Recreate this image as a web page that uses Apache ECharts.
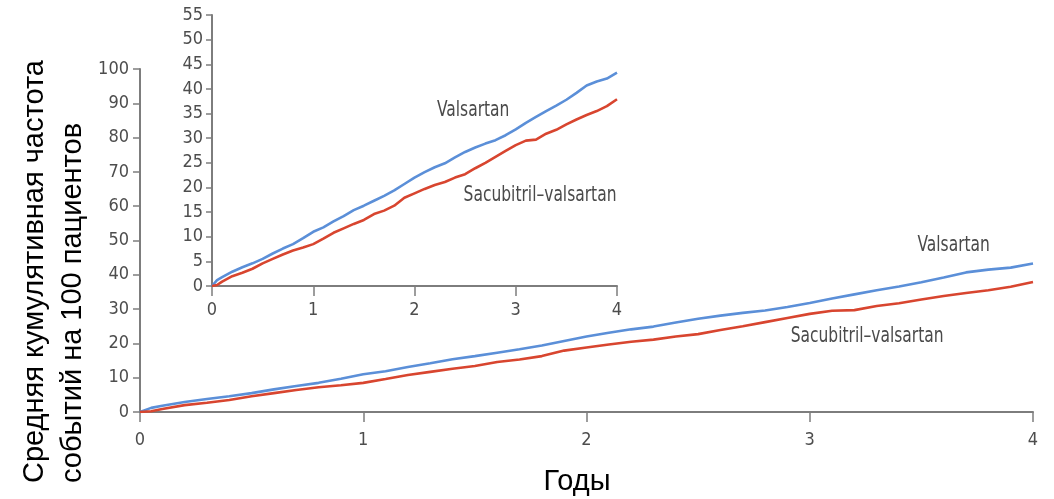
<!DOCTYPE html>
<html>
<head>
<meta charset="utf-8">
<script src="https://cdn.jsdelivr.net/npm/echarts@6/dist/echarts.min.js"></script>
<style>
html,body{margin:0;padding:0;background:#fff;}
#c{width:1054px;height:499px;}
</style>
</head>
<body>
<div id="c"></div>
<script>
// ---- data ----
const years = [0, 0.05, 0.1, 0.2, 0.3, 0.4, 0.5, 0.6, 0.7, 0.8, 0.9, 1.0, 1.1, 1.2, 1.3, 1.4, 1.5, 1.6, 1.7, 1.8, 1.9, 2.0,
  2.1, 2.2, 2.3, 2.4, 2.5, 2.6, 2.7, 2.8, 2.9, 3.0, 3.1, 3.2, 3.3, 3.4, 3.5, 3.6, 3.7, 3.8, 3.9, 4.0];
const valsartan = [0, 1.2, 1.8, 2.9, 3.8, 4.6, 5.5, 6.6, 7.6, 8.5, 9.7, 11.0, 11.9, 13.1, 14.2, 15.4, 16.3, 17.3, 18.3, 19.4, 20.7, 22.0,
  23.1, 24.1, 24.9, 26.1, 27.2, 28.1, 28.9, 29.6, 30.6, 31.8, 33.1, 34.3, 35.5, 36.6, 37.8, 39.2, 40.7, 41.5, 42.1, 43.3];
const sacubitrilValsartan = [0, 0.2, 0.9, 2.0, 2.7, 3.5, 4.6, 5.5, 6.4, 7.2, 7.8, 8.5, 9.6, 10.8, 11.7, 12.6, 13.4, 14.6, 15.3, 16.3, 17.9, 18.8,
  19.7, 20.5, 21.1, 22.0, 22.7, 23.9, 25.0, 26.2, 27.4, 28.6, 29.5, 29.7, 30.9, 31.7, 32.8, 33.8, 34.7, 35.5, 36.5, 37.9];
const xTicks = [0, 1, 2, 3, 4];
const mainYMax = 100, mainYStep = 10;
const insetYMax = 55, insetYStep = 5;
const seriesNames = ['Valsartan', 'Sacubitril\u2013valsartan'];
const yTitle1 = 'Средняя кумулятивная частота';
const yTitle2 = 'событий на 100 пациентов';
const xTitle = 'Годы';

// ---- styles ----
const BLUE = '#5b8fd8', RED = '#d8452f';
const AXIS = '#7d7d7d', LABEL = '#4d4d4d';
const NARROW = '"Liberation Sans Narrow","DejaVu Sans Condensed","DejaVu Sans",sans-serif';
const TITLE_FONT = '29px "Liberation Sans", Arial, sans-serif';

function pts(vals) { return years.map((x, i) => [x, vals[i]]); }

function xAxisCfg(gi, margin) {
  return {
    type: 'value', gridIndex: gi, min: xTicks[0], max: xTicks[xTicks.length - 1], interval: 1,
    axisLine: { show: true, onZero: false, lineStyle: { color: AXIS, width: 2 } },
    axisTick: { show: true, length: 10, lineStyle: { color: AXIS, width: 1.5 } },
    axisLabel: { color: LABEL, fontSize: 18, fontFamily: NARROW, margin: margin },
    splitLine: { show: false }
  };
}
function yAxisCfg(gi, max, step, margin, tickLen) {
  return {
    type: 'value', gridIndex: gi, min: 0, max: max, interval: step,
    axisLine: { show: true, lineStyle: { color: AXIS, width: 2 } },
    axisTick: { show: true, length: tickLen, lineStyle: { color: AXIS, width: 1.5 } },
    axisLabel: { color: LABEL, fontSize: 18, fontFamily: NARROW, margin: margin },
    splitLine: { show: false }
  };
}
function line(name, vals, color, xi, yi) {
  return {
    type: 'line', name: name, xAxisIndex: xi, yAxisIndex: yi, data: pts(vals),
    showSymbol: false, symbol: 'none', animation: false,
    lineStyle: { color: color, width: 2.6 }, itemStyle: { color: color }, z: 3
  };
}

const chart = echarts.init(document.getElementById('c'), null, { renderer: 'canvas' });
chart.setOption({
  animation: false,
  backgroundColor: '#fff',
  grid: [
    { left: 140, right: 21, top: 69, bottom: 87 },
    { left: 212, right: 437, top: 15, bottom: 213 }
  ],
  xAxis: [xAxisCfg(0, 19), xAxisCfg(1, 15)],
  yAxis: [yAxisCfg(0, mainYMax, mainYStep, 11, 7), yAxisCfg(1, insetYMax, insetYStep, 9, 6)],
  series: [
    line(seriesNames[0], valsartan, BLUE, 0, 0),
    line(seriesNames[1], sacubitrilValsartan, RED, 0, 0),
    line(seriesNames[0], valsartan, BLUE, 1, 1),
    line(seriesNames[1], sacubitrilValsartan, RED, 1, 1)
  ]
});

// annotations anchored in data coordinates
const notes = [
  { text: seriesNames[0], grid: 0, at: [3.645, 48.5] },
  { text: seriesNames[1], grid: 0, at: [3.257, 22.0] },
  { text: seriesNames[0], grid: 1, at: [2.58, 35.7] },
  { text: seriesNames[1], grid: 1, at: [3.24, 18.4] }
];
const graphics = notes.map(n => {
  const p = chart.convertToPixel({ gridIndex: n.grid }, n.at);
  return {
    type: 'text', x: p[0], y: p[1], scaleX: 0.82, z: 10,
    style: { text: n.text, fill: '#4a4a4a', font: '21px ' + NARROW, textAlign: 'center', textVerticalAlign: 'middle' }
  };
});
graphics.push(
  { type: 'text', x: 35, y: 483, rotation: Math.PI / 2, z: 10,
    style: { text: yTitle1, fill: '#000', font: TITLE_FONT, textAlign: 'left', textVerticalAlign: 'middle' } },
  { type: 'text', x: 73, y: 483, rotation: Math.PI / 2, z: 10,
    style: { text: yTitle2, fill: '#000', font: TITLE_FONT, textAlign: 'left', textVerticalAlign: 'middle' } },
  { type: 'text', x: 577, y: 482, z: 10,
    style: { text: xTitle, fill: '#000', font: TITLE_FONT, textAlign: 'center', textVerticalAlign: 'middle' } }
);
chart.setOption({ graphic: graphics });
</script>
</body>
</html>
